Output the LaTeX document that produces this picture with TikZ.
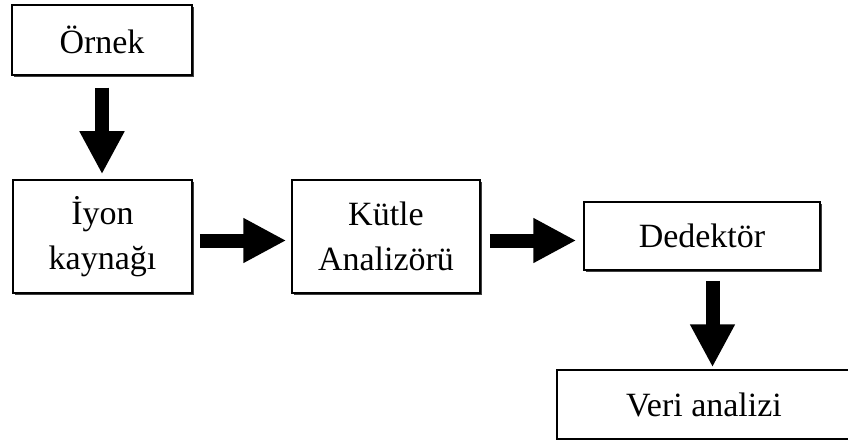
\documentclass[tikz,border=0pt]{standalone}
\usepackage{fontspec}
\setmainfont{Liberation Serif}
\usetikzlibrary{arrows.meta,shadows}

\begin{document}
\begin{tikzpicture}[x=1pt,y=-1pt,
  boxbase/.style={draw=black, line width=1.5pt, fill=white, inner sep=0pt,
    align=center, font=\fontsize{34}{45}\selectfont},
  stepbox/.style={boxbase,
    drop shadow={shadow xshift=2.2pt, shadow yshift=-2.2pt, fill=black, opacity=0.75}},
  blockarrow/.style={line width=14pt,
    -{Triangle[length=43pt,width=42pt]}}
]
\useasboundingbox (0,0) rectangle (848,441);

% stages of the instrument
\node[stepbox, minimum width=180pt, minimum height=70pt] (ornek) at (102,40) {Örnek};
\node[stepbox, minimum width=179pt, minimum height=113pt] (iyon) at (102.5,236.5) {İyon\\kaynağı};
\node[stepbox, minimum width=188pt, minimum height=113pt] (kutle) at (386,236.5) {Kütle\\Analizörü};
\node[stepbox, minimum width=236pt, minimum height=68pt] (dedektor) at (702,236) {Dedektör};
\node[boxbase, minimum width=294pt, minimum height=69pt] (veri) at (704,404.5) {Veri analizi};

% block arrows between the stages
\draw[blockarrow, shorten <=12pt, shorten >=5pt] (ornek.south) -- (ornek.south |- iyon.north);
\draw[blockarrow, shorten <=7pt, shorten >=5pt] ([yshift=-4pt]iyon.east) -- ([yshift=-4pt]iyon.east -| kutle.west);
\draw[blockarrow, shorten <=9pt, shorten >=7pt] ([yshift=-4pt]kutle.east) -- ([yshift=-4pt]kutle.east -| dedektor.west);
\draw[blockarrow, shorten <=10pt, shorten >=2pt] ([xshift=10.5pt]dedektor.south) -- ([xshift=10.5pt]dedektor.south |- veri.north);
\end{tikzpicture}
\end{document}
